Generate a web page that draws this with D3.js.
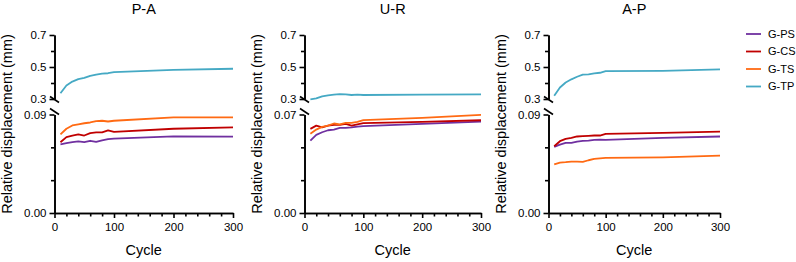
<!DOCTYPE html>
<html>
<head>
<meta charset="utf-8">
<script src="https://cdn.jsdelivr.net/npm/d3@7"></script>
<style>
  body { margin: 0; background: #fff; }
  svg { display: block; font-family: "Liberation Sans", Arial, sans-serif; }
  .axis path, .axis line { stroke: #000; stroke-width: 1.6px; }
  .axis text { font-size: 11.5px; fill: #000; }
</style>
</head>
<body>
<svg id="chart" width="796" height="262"></svg>
<script>
// cycles at which displacement was recorded
const cycles = [10, 20, 30, 40, 50, 60, 70, 80, 90, 100, 200, 300];
const groups = ["G-PS", "G-CS", "G-TS", "G-TP"];
const groupColors = ["#7030A0", "#C00000", "#FF6A13", "#45A9C4"];

// P-A
const paPS = [0.0626, 0.0638, 0.0647, 0.0654, 0.0647, 0.0660, 0.0650, 0.0663, 0.0675, 0.0680, 0.0700, 0.0697];
const paCS = [0.0647, 0.0693, 0.0708, 0.0718, 0.0708, 0.0730, 0.0736, 0.0736, 0.0754, 0.0742, 0.0770, 0.0782];
const paTS = [0.0718, 0.0770, 0.0800, 0.0810, 0.0820, 0.0827, 0.0839, 0.0843, 0.0836, 0.0843, 0.0873, 0.0873];
const paTP = [0.336, 0.384, 0.409, 0.424, 0.432, 0.445, 0.453, 0.459, 0.461, 0.468, 0.482, 0.489];

// U-R
const urPS = [0.0514, 0.0555, 0.0574, 0.0588, 0.0593, 0.0605, 0.0605, 0.0609, 0.0614, 0.0617, 0.0633, 0.0650];
const urCS = [0.0598, 0.0621, 0.0609, 0.0621, 0.0626, 0.0626, 0.0633, 0.0621, 0.0630, 0.0638, 0.0648, 0.0659];
const urTS = [0.0564, 0.0593, 0.0612, 0.0621, 0.0636, 0.0629, 0.0640, 0.0640, 0.0648, 0.0660, 0.0676, 0.0698];
const urTP = [0.298, 0.304, 0.317, 0.323, 0.327, 0.331, 0.329, 0.325, 0.327, 0.325, 0.327, 0.329];

// A-P
const apPS = [0.0604, 0.0625, 0.0641, 0.0641, 0.0653, 0.0659, 0.0662, 0.0668, 0.0671, 0.0668, 0.0686, 0.0699];
const apCS = [0.0610, 0.0656, 0.0677, 0.0686, 0.0699, 0.0702, 0.0705, 0.0708, 0.0708, 0.0723, 0.0732, 0.0744];
const apTS = [0.0445, 0.0461, 0.0464, 0.0470, 0.0470, 0.0467, 0.0482, 0.0494, 0.0500, 0.0503, 0.0509, 0.0525];
const apTP = [0.320, 0.372, 0.403, 0.423, 0.439, 0.452, 0.454, 0.460, 0.464, 0.474, 0.476, 0.485];

// axis ticks
const xMajor = [0, 100, 200, 300];
const xMinor = [20, 40, 60, 80, 120, 140, 160, 180, 220, 240, 260, 280];
const upperMajor = [0.3, 0.5, 0.7];
const upperMinor = [0.4, 0.6];

const panels = [
  { title: "P-A", left: 54.5, right: 233, lowMax: 0.09, lowFmt: d3.format(".2f"), series: [paPS, paCS, paTS, paTP] },
  { title: "U-R", left: 304.5, right: 481, lowMax: 0.07, lowFmt: d3.format(".2f"), series: [urPS, urCS, urTS, urTP] },
  { title: "A-P", left: 548.5, right: 720, lowMax: 0.09, lowFmt: d3.format(".2f"), series: [apPS, apCS, apTS, apTP] }
];

const svg = d3.select("#chart");
svg.append("rect").attr("width", 796).attr("height", 262).attr("fill", "#fff");

// vertical layout shared by the three panels
const upTop = 35, upBottom = 99;
const lowTop = 114.5, lowBottom = 213;

panels.forEach(p => {
  const g = svg.append("g");

  const x = d3.scaleLinear().domain([0, 300]).range([p.left, p.right]);
  const yUp = d3.scaleLinear().domain([0.3, 0.7]).range([upBottom, upTop]);
  const yLow = d3.scaleLinear().domain([0, p.lowMax]).range([lowBottom, lowTop]);

  // x axis
  g.append("g").attr("class", "axis")
    .attr("transform", `translate(0,${lowBottom})`)
    .call(d3.axisBottom(x).tickValues(xMinor).tickSize(3.5).tickSizeOuter(0).tickFormat(""));
  g.append("g").attr("class", "axis")
    .attr("transform", `translate(0,${lowBottom})`)
    .call(d3.axisBottom(x).tickValues(xMajor).tickSize(5).tickSizeOuter(0).tickPadding(5));

  // upper y segment
  g.append("g").attr("class", "axis")
    .attr("transform", `translate(${p.left},0)`)
    .call(d3.axisLeft(yUp).tickValues(upperMinor).tickSize(3.5).tickSizeOuter(0).tickFormat(""));
  g.append("g").attr("class", "axis")
    .attr("transform", `translate(${p.left},0)`)
    .call(d3.axisLeft(yUp).tickValues(upperMajor).tickSize(5).tickSizeOuter(0).tickPadding(3).tickFormat(d3.format(".1f")));

  // lower y segment
  const lowMid = [p.lowMax / 3, p.lowMax * 2 / 3];
  g.append("g").attr("class", "axis")
    .attr("transform", `translate(${p.left},0)`)
    .call(d3.axisLeft(yLow).tickValues(lowMid).tickSize(3.5).tickSizeOuter(0).tickFormat(""));
  g.append("g").attr("class", "axis")
    .attr("transform", `translate(${p.left},0)`)
    .call(d3.axisLeft(yLow).tickValues([0, p.lowMax]).tickSize(5).tickSizeOuter(0).tickPadding(3).tickFormat(p.lowFmt));

  // break marks
  [[upBottom + 0.5], [lowTop - 3]].forEach(([cy]) => {
    g.append("line")
      .attr("x1", p.left - 4.5).attr("y1", cy - 3)
      .attr("x2", p.left + 4.5).attr("y2", cy + 3)
      .attr("stroke", "#000").attr("stroke-width", 1.6);
  });

  // data lines
  p.series.forEach((vals, i) => {
    const y = i === 3 ? yUp : yLow;
    const line = d3.line().x((d, j) => x(cycles[j])).y(d => y(d));
    g.append("path")
      .datum(vals)
      .attr("fill", "none")
      .attr("stroke", groupColors[i])
      .attr("stroke-width", 1.8)
      .attr("stroke-linejoin", "round")
      .attr("d", line);
  });

  // title
  g.append("text")
    .attr("x", (p.left + p.right) / 2).attr("y", 13.5)
    .attr("text-anchor", "middle")
    .style("font-size", "14.5px")
    .text(p.title);

  // x label
  g.append("text")
    .attr("x", (p.left + p.right) / 2).attr("y", 255)
    .attr("text-anchor", "middle")
    .style("font-size", "14.5px")
    .text("Cycle");

  // y label
  g.append("text")
    .attr("transform", `translate(${p.left - 42.5},${(upTop + lowBottom) / 2}) rotate(-90)`)
    .attr("text-anchor", "middle")
    .style("font-size", "14.5px")
    .text("Relative displacement (mm)");
});

// legend
const legend = svg.append("g").attr("transform", "translate(746,34)");
groups.forEach((name, i) => {
  const row = legend.append("g").attr("transform", `translate(0,${i * 17.5})`);
  row.append("line")
    .attr("x1", 0).attr("x2", 15)
    .attr("stroke", groupColors[i]).attr("stroke-width", 1.8);
  row.append("text")
    .attr("x", 22).attr("dy", "0.35em")
    .style("font-size", "11px")
    .text(name);
});
</script>
</body>
</html>
